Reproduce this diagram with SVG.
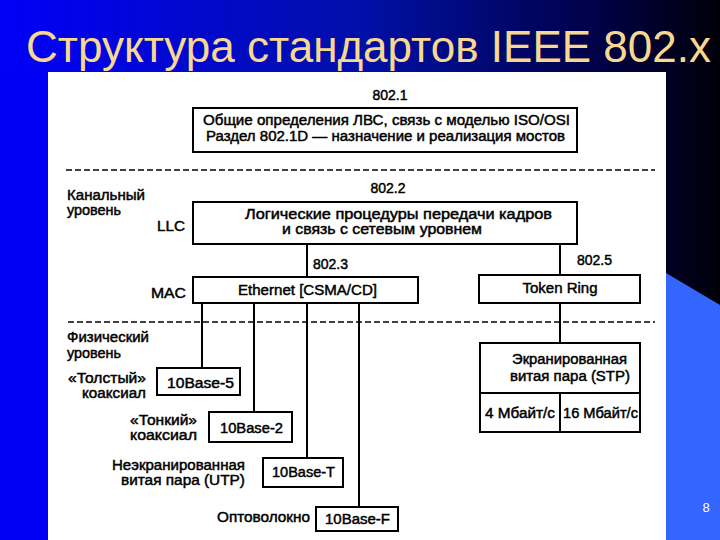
<svg xmlns="http://www.w3.org/2000/svg" width="720" height="540" viewBox="0 0 720 540">
<defs>
<linearGradient id="bg" x1="0" y1="0" x2="1" y2="0">
<stop offset="0" stop-color="#0000f8"/>
<stop offset="0.5" stop-color="#0010a8"/>
<stop offset="0.85" stop-color="#000040"/>
<stop offset="1" stop-color="#000008"/>
</linearGradient>
<style>
.t{font-family:"Liberation Sans",Arial,sans-serif;font-size:14px;fill:#000;stroke:#000;stroke-width:0.45}
.s{font-size:15px}
.c{text-anchor:middle}
.e{text-anchor:end}
.box{fill:#fff;stroke:#000;stroke-width:2}
.ln{stroke:#000;stroke-width:2;fill:none}
.dash{stroke:#000;stroke-width:1.5;stroke-dasharray:6 3;fill:none}
</style>
</defs>
<rect x="0" y="0" width="720" height="540" fill="url(#bg)"/>
<rect x="0" y="72" width="48" height="468" fill="#0000f4"/>
<polygon points="666,273 720,305 720,540 666,540" fill="#3366ff"/>
<rect x="48" y="72" width="618" height="468" fill="#fff"/>
<text x="26" y="62" font-family="Liberation Sans,Arial,sans-serif" font-size="44" fill="#f8d890" textLength="685" lengthAdjust="spacingAndGlyphs">Структура стандартов IEEE 802.x</text>
<text x="706" y="512" font-family="Liberation Sans,Arial,sans-serif" font-size="13" fill="#fff" text-anchor="middle">8</text>

<g id="layers">
<line class="dash" x1="66" y1="170" x2="655" y2="170"/>
<line class="dash" x1="68" y1="322" x2="655" y2="322"/>
<text class="t" x="67" y="200" textLength="78" lengthAdjust="spacingAndGlyphs">Канальный</text>
<text class="t" x="67" y="215" textLength="54" lengthAdjust="spacingAndGlyphs">уровень</text>
<text class="t" x="67" y="342" textLength="82" lengthAdjust="spacingAndGlyphs">Физический</text>
<text class="t" x="67" y="358" textLength="54" lengthAdjust="spacingAndGlyphs">уровень</text>
<text class="t" x="157" y="231" textLength="28" lengthAdjust="spacingAndGlyphs">LLC</text>
<text class="t" x="151" y="298" textLength="35" lengthAdjust="spacingAndGlyphs">MAC</text>
</g>

<g id="connectors">
<line class="ln" x1="307" y1="244" x2="307" y2="277"/>
<line class="ln" x1="560" y1="244" x2="560" y2="275"/>
<line class="ln" x1="560" y1="303" x2="560" y2="343"/>
<line class="ln" x1="202" y1="303" x2="202" y2="368"/>
<line class="ln" x1="254" y1="303" x2="254" y2="412"/>
<line class="ln" x1="307" y1="303" x2="307" y2="458"/>
<line class="ln" x1="359" y1="303" x2="359" y2="507"/>
</g>

<g id="n8021">
<text class="t c" x="390" y="100">802.1</text>
<rect class="box" x="193" y="108" width="384" height="44"/>
<text class="t" x="203" y="125" textLength="367" lengthAdjust="spacingAndGlyphs">Общие определения ЛВС, связь с моделью ISO/OSI</text>
<text class="t" x="206" y="141" textLength="359" lengthAdjust="spacingAndGlyphs">Раздел 802.1D — назначение и реализация мостов</text>
</g>

<g id="n8022">
<text class="t c" x="388" y="193">802.2</text>
<rect class="box" x="193" y="202" width="384" height="42"/>
<text class="t" x="245" y="219" textLength="307" lengthAdjust="spacingAndGlyphs">Логические процедуры передачи кадров</text>
<text class="t" x="282" y="234" textLength="200" lengthAdjust="spacingAndGlyphs">и связь с сетевым уровнем</text>
</g>

<g id="n8023">
<text class="t" x="313" y="269">802.3</text>
<rect class="box" x="193" y="277" width="225" height="26"/>
<text class="t" x="238" y="295" textLength="139" lengthAdjust="spacingAndGlyphs">Ethernet [CSMA/CD]</text>
</g>

<g id="n8025">
<text class="t" x="577" y="265">802.5</text>
<rect class="box" x="479" y="275" width="161" height="28"/>
<text class="t c s" x="560" y="293">Token Ring</text>
</g>

<g id="stp">
<rect class="box" x="480" y="343" width="160" height="89"/>
<line class="ln" x1="480" y1="393" x2="640" y2="393"/>
<line class="ln" x1="560" y1="393" x2="560" y2="432"/>
<text class="t" x="512" y="364" textLength="115" lengthAdjust="spacingAndGlyphs">Экранированная</text>
<text class="t" x="510" y="381" textLength="120" lengthAdjust="spacingAndGlyphs">витая пара (STP)</text>
<text class="t" x="485" y="418" textLength="70" lengthAdjust="spacingAndGlyphs">4 Мбайт/с</text>
<text class="t" x="563" y="418" textLength="75" lengthAdjust="spacingAndGlyphs">16 Мбайт/с</text>
</g>

<g id="b5">
<text class="t" x="68" y="383" textLength="78" lengthAdjust="spacingAndGlyphs">«Толстый»</text>
<text class="t" x="82" y="398" textLength="64" lengthAdjust="spacingAndGlyphs">коаксиал</text>
<rect class="box" x="157" y="368" width="83" height="27"/>
<text class="t" x="167" y="388" textLength="67" lengthAdjust="spacingAndGlyphs">10Base-5</text>
</g>

<g id="b2">
<text class="t" x="130" y="425" textLength="67" lengthAdjust="spacingAndGlyphs">«Тонкий»</text>
<text class="t" x="130" y="440" textLength="67" lengthAdjust="spacingAndGlyphs">коаксиал</text>
<rect class="box" x="209" y="412" width="83" height="30"/>
<text class="t" x="220" y="433" textLength="63" lengthAdjust="spacingAndGlyphs">10Base-2</text>
</g>

<g id="bT">
<text class="t" x="112" y="470" textLength="133" lengthAdjust="spacingAndGlyphs">Неэкранированная</text>
<text class="t" x="121" y="485" textLength="124" lengthAdjust="spacingAndGlyphs">витая пара (UTP)</text>
<rect class="box" x="263" y="458" width="80" height="29"/>
<text class="t" x="272" y="477" textLength="63" lengthAdjust="spacingAndGlyphs">10Base-T</text>
</g>

<g id="bF">
<text class="t" x="217" y="522" textLength="93" lengthAdjust="spacingAndGlyphs">Оптоволокно</text>
<rect class="box" x="316" y="507" width="82" height="24"/>
<text class="t" x="325" y="524" textLength="65" lengthAdjust="spacingAndGlyphs">10Base-F</text>
</g>
</svg>
